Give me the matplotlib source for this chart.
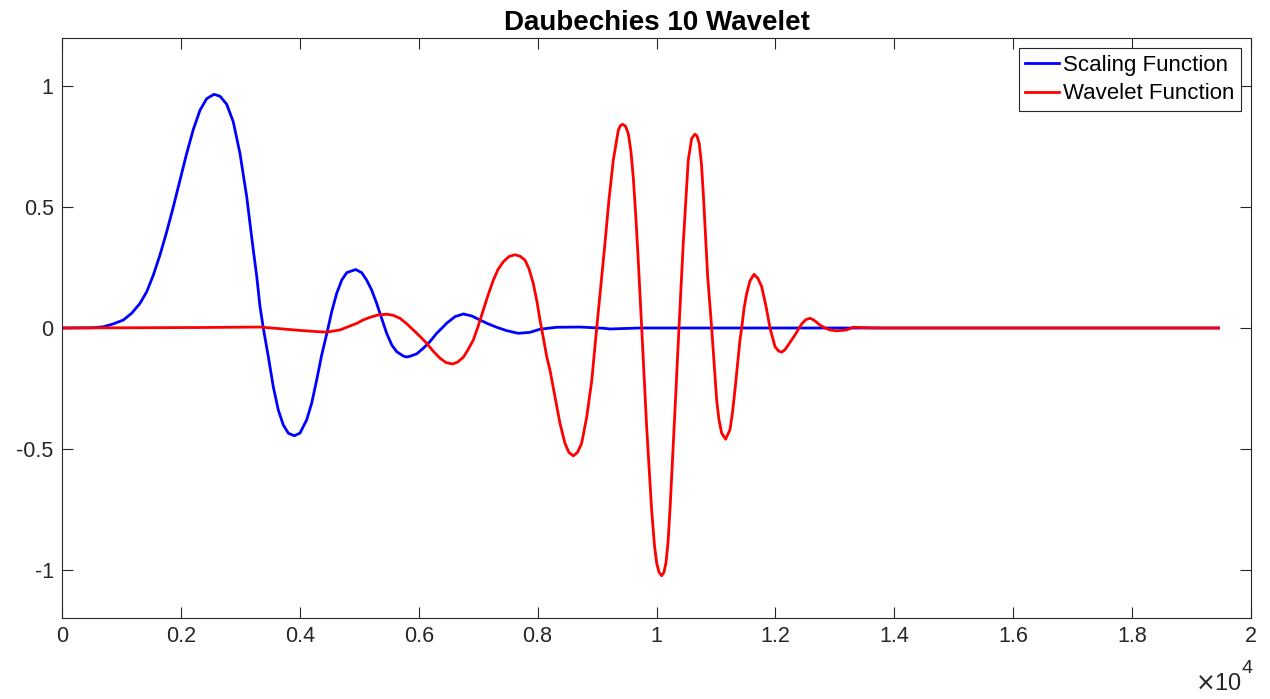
import matplotlib
matplotlib.use("Agg")
from matplotlib import pyplot as plt
from matplotlib.ticker import FuncFormatter

# Daubechies 10 curves (sample index, amplitude)
scaling_x = [0, 526, 695, 863, 1031, 1172, 1312, 1425, 1536, 1648, 1761, 1872,
             1985, 2097, 2208, 2321, 2434, 2557, 2658, 2770, 2881, 2994, 3107,
             3162, 3218, 3275, 3330, 3386, 3470, 3554, 3638, 3722, 3806, 3907,
             4003, 4116, 4200, 4284, 4368, 4462, 4536, 4620, 4705, 4789, 4940,
             5041, 5125, 5209, 5293, 5377, 5461, 5546, 5630, 5741, 5797, 5853,
             5966, 6077, 6190, 6302, 6413, 6471, 6611, 6750, 6891, 7031, 7170,
             7312, 7480, 7675, 7872, 8040, 8321, 8713, 9105, 9217, 9722, 19455]
scaling_y = [0.0, 0.001, 0.005, 0.017, 0.033, 0.061, 0.102, 0.15, 0.219, 0.302, 0.398, 0.501,
             0.612, 0.722, 0.821, 0.901, 0.949, 0.967, 0.959, 0.926, 0.853, 0.722, 0.543,
             0.433, 0.322, 0.215, 0.09, 0.0, -0.118, -0.243, -0.339, -0.401, -0.435, -0.446,
             -0.435, -0.38, -0.311, -0.215, -0.112, -0.015, 0.067, 0.143, 0.198, 0.229, 0.242,
             0.229, 0.198, 0.157, 0.102, 0.04, -0.022, -0.07, -0.098, -0.116, -0.12, -0.117,
             -0.107, -0.084, -0.056, -0.022, 0.005, 0.02, 0.047, 0.058, 0.05, 0.033, 0.017,
             0.003, -0.011, -0.022, -0.018, -0.005, 0.003, 0.004, -0.001, -0.004, 0.0, 0.0]

wavelet_x = [0, 2321, 3330, 3717, 4003, 4284, 4452, 4676, 4811, 4957, 5063, 5181,
             5315, 5461, 5567, 5685, 5797, 5909, 6022, 6134, 6240, 6358, 6459,
             6572, 6661, 6750, 6829, 6918, 6997, 7086, 7165, 7255, 7334, 7423,
             7519, 7619, 7704, 7788, 7855, 7927, 7989, 8040, 8096, 8153, 8208,
             8292, 8376, 8460, 8527, 8600, 8670, 8741, 8825, 8910, 8994, 9066,
             9133, 9200, 9273, 9357, 9394, 9431, 9478, 9525, 9570, 9609, 9652,
             9693, 9750, 9834, 9918, 9966, 10003, 10041, 10087, 10126, 10159, 10193,
             10227, 10311, 10378, 10450, 10534, 10591, 10647, 10681, 10719, 10756,
             10787, 10861, 10928, 11012, 11051, 11096, 11163, 11236, 11278, 11320,
             11404, 11433, 11472, 11517, 11572, 11640, 11707, 11769, 11842, 11909,
             11993, 12052, 12106, 12161, 12217, 12329, 12442, 12514, 12581, 12632,
             12682, 12750, 12834, 12918, 13031, 13199, 13310, 13704, 19455]
wavelet_y = [0.0, 0.002, 0.004, -0.004, -0.01, -0.015, -0.017, -0.008, 0.005, 0.019, 0.033, 0.044,
             0.054, 0.057, 0.053, 0.04, 0.018, -0.008, -0.035, -0.063, -0.095, -0.125, -0.143,
             -0.149, -0.14, -0.121, -0.09, -0.05, 0.005, 0.074, 0.135, 0.198, 0.242, 0.274,
             0.296, 0.303, 0.297, 0.281, 0.245, 0.185, 0.11, 0.033, -0.04, -0.118, -0.174,
             -0.284, -0.394, -0.477, -0.515, -0.529, -0.515, -0.477, -0.37, -0.22, 0.0, 0.18,
             0.35, 0.53, 0.694, 0.818, 0.838, 0.843, 0.835, 0.805, 0.73, 0.625, 0.46,
             0.281, 0.005, -0.408, -0.752, -0.9, -0.972, -1.01, -1.025, -1.01, -0.972, -0.89,
             -0.752, -0.339, 0.0, 0.35, 0.694, 0.784, 0.802, 0.795, 0.763, 0.68,
             0.557, 0.212, 0.0, -0.298, -0.38, -0.435, -0.46, -0.421, -0.35, -0.256,
             -0.05, 0.0, 0.08, 0.143, 0.195, 0.222, 0.205, 0.171, 0.09, 0.0,
             -0.077, -0.095, -0.1, -0.09, -0.07, -0.029, 0.017, 0.035, 0.04, 0.035,
             0.026, 0.012, 0.0, -0.008, -0.012, -0.008, 0.003, 0.0, 0.0]

x_ticks = [0, 2000, 4000, 6000, 8000, 10000, 12000, 14000, 16000, 18000, 20000]
y_ticks = [-1, -0.5, 0, 0.5, 1]

plt.rcParams['font.family'] = ['Liberation Sans', 'DejaVu Sans']
plt.rcParams['axes.unicode_minus'] = False

dark = '0.15'
W, H = 1270, 699
fig = plt.figure(figsize=(W / 100, H / 100), dpi=100)
ax = fig.add_axes([62 / W, 1 - 618 / H, (1251 - 62) / W, (618 - 38) / H])

ax.plot(scaling_x, scaling_y, color=(0, 0, 1), lw=2, label='Scaling Function')
ax.plot(wavelet_x, wavelet_y, color=(1, 0, 0), lw=2, label='Wavelet Function')

ax.set_xlim(0, 20000)
ax.set_ylim(-1.2, 1.2)
ax.set_xticks(x_ticks)
ax.set_yticks(y_ticks)
ax.xaxis.set_major_formatter(FuncFormatter(lambda v, p: f"{v / 1e4:g}"))
ax.yaxis.set_major_formatter(FuncFormatter(lambda v, p: f"{v:g}"))
ax.tick_params(direction='in', length=8, width=0.8, top=True, right=True,
               labelsize=15.5, colors=dark, pad=6)
for s in ax.spines.values():
    s.set_color(dark)
    s.set_linewidth(0.8)

ax.set_title('Daubechies 10 Wavelet', fontsize=20, fontweight='bold', pad=6)

# MATLAB-style exponent label under the right end of the x axis
fig.text(1242 / W, 1 - 690 / H, r'$\times$10', ha='right', va='baseline',
         fontsize=17, color=dark)
fig.text(1242 / W, 1 - 673 / H, '4', ha='left', va='baseline',
         fontsize=14, color=dark)

leg = ax.legend(loc='upper right', fontsize=16, frameon=True, fancybox=False,
                framealpha=1, edgecolor=dark, borderaxespad=0.45, handlelength=1.5,
                handletextpad=0.2, borderpad=0.3, labelspacing=0.35)
leg.get_frame().set_linewidth(0.8)

fig.savefig('out.png', dpi=100)
